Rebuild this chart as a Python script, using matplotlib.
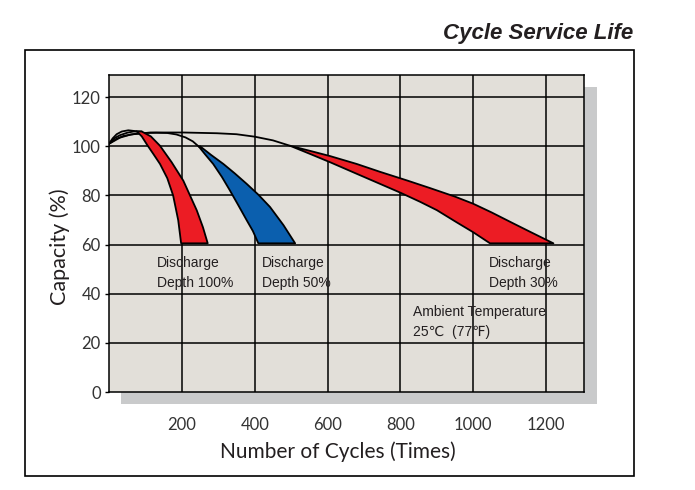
import matplotlib
matplotlib.use("Agg")
import matplotlib.pyplot as plt
from matplotlib.patches import Rectangle

plt.rcParams['font.family'] = ['Lato', 'DejaVu Sans']

# ---- data (cycles, capacity %) ----
x_ticks = [200, 400, 600, 800, 1000, 1200]
y_ticks = [0, 20, 40, 60, 80, 100, 120]

# 100% DOD: two lines from the start point up to the red band tip
a_pre1_x = [0, 10, 21, 35, 53, 76]
a_pre1_y = [101, 103.2, 104.9, 106.0, 106.5, 106.1]
a_pre2_x = [0, 15, 30, 50, 67, 90]
a_pre2_y = [101, 103.3, 104.5, 105.5, 106.0, 106.0]
a_in_x = [76, 90, 105, 122, 140, 160, 176, 190, 198]
a_in_y = [106.1, 104.0, 100.5, 96.8, 92.8, 87.0, 80.0, 69.9, 60.5]
a_out_x = [90, 115, 140, 172, 204, 241, 258, 271]
a_out_y = [106.0, 104.0, 100.2, 93.5, 86.0, 73.9, 67.0, 60.5]

# 50% DOD
b_pre_x = [0, 20, 40, 70, 100, 130, 160, 185, 210, 230, 247]
b_pre_y = [101, 103.0, 104.2, 105.0, 105.4, 105.5, 105.4, 104.8, 103.6, 102.0, 99.8]
b_in_x = [247, 265, 286, 310, 332, 355, 378, 395, 410]
b_in_y = [99.8, 96.5, 92.8, 87.5, 82.0, 76.0, 69.9, 65.5, 60.5]
b_out_x = [250, 280, 314, 345, 378, 410, 442, 479, 511]
b_out_y = [100.0, 96.5, 92.8, 89.0, 84.7, 80.3, 75.3, 67.9, 60.5]

# 30% DOD
c_pre_x = [0, 30, 60, 113, 204, 296, 350, 400, 450, 497]
c_pre_y = [101, 103.5, 104.8, 105.6, 105.6, 105.3, 104.9, 103.9, 102.4, 100.2]
c_top_x = [497, 550, 607, 680, 744, 820, 881, 950, 1000, 1050, 1110, 1160, 1220]
c_top_y = [100.2, 98.2, 96.0, 92.8, 89.6, 86.0, 83.0, 79.5, 76.6, 73.1, 68.6, 64.9, 60.5]
c_bot_x = [497, 550, 607, 680, 744, 800, 854, 900, 955, 1000, 1046]
c_bot_y = [100.2, 97.0, 93.5, 88.8, 84.7, 81.1, 77.4, 74.0, 69.0, 65.0, 60.5]

RED = '#ec1c24'
BLUE = '#0b5fae'
BG = '#e2dfd9'
SHADOW = '#c9cacb'
TXT = '#231f20'

W, H = 695, 490
fig = plt.figure(figsize=(W / 100, H / 100), dpi=100)
fig.patch.set_facecolor('white')


def fx(px):
    return px / W


def fy(py):
    return 1 - py / H


# outer frame and drop shadow (behind the axes)
fig.patches.append(Rectangle((fx(25), fy(476)), fx(634) - fx(25), fy(50) - fy(476),
                             transform=fig.transFigure, fill=False, ec='black', lw=1.2, zorder=-2))
fig.patches.append(Rectangle((fx(121), fy(404)), fx(597) - fx(121), fy(87) - fy(404),
                             transform=fig.transFigure, fc=SHADOW, ec='none', zorder=-1))

ax = fig.add_axes([fx(109), fy(392), fx(584) - fx(109), fy(75) - fy(392)])
ax.set_zorder(2)
ax.set_facecolor(BG)
ax.set_xlim(0, 1304)
ax.set_ylim(0, 129)

for v in x_ticks:
    ax.axvline(v, color='black', lw=1.1, zorder=1)
for v in y_ticks[1:]:
    ax.axhline(v, color='black', lw=1.1, zorder=1)

for s in ax.spines.values():
    s.set_color('black')
    s.set_linewidth(1.1)

ax.set_xticks(x_ticks)
ax.set_yticks(y_ticks)
ax.tick_params(axis='x', length=0, pad=18, labelsize=12, labelcolor='#333333')
ax.tick_params(axis='y', length=3, width=1, pad=3, labelsize=12, labelcolor='#333333')


def band(in_x, in_y, out_x, out_y, color):
    xs = list(in_x) + list(out_x[::-1])
    ys = list(in_y) + list(out_y[::-1])
    ax.fill(xs, ys, facecolor=color, edgecolor='black', lw=1.3, joinstyle='round', zorder=3)


for px_, py_ in [(a_pre1_x, a_pre1_y), (a_pre2_x, a_pre2_y), (b_pre_x, b_pre_y), (c_pre_x, c_pre_y)]:
    ax.plot(px_, py_, color='black', lw=1.3, zorder=3, solid_capstyle='round')

band(a_in_x, a_in_y, a_out_x, a_out_y, RED)
band(b_in_x, b_in_y, b_out_x, b_out_y, BLUE)
band(c_bot_x, c_bot_y, c_top_x, c_top_y, RED)

lbl = dict(fontsize=10, color=TXT, family=['Liberation Sans Narrow', 'Liberation Sans', 'DejaVu Sans'],
           va='top', ha='left', linespacing=1.55, zorder=4)
ax.text(132, 55.4, 'Discharge\nDepth 100%', **lbl)
ax.text(420, 55.4, 'Discharge\nDepth 50%', **lbl)
ax.text(1043, 55.4, 'Discharge\nDepth 30%', **lbl)
ax.text(835, 35.6, 'Ambient Temperature\n25\u2103  (77\u2109)', **lbl)

fig.text(fx(60), fy(247), 'Capacity (%)', rotation=90, ha='center', va='center',
         fontsize=15.5, color=TXT)
fig.text(fx(338), fy(452), 'Number of Cycles (Times)', ha='center', va='center',
         fontsize=15, color=TXT)
fig.text(fx(633), fy(34), 'Cycle Service Life', ha='right', va='center', fontsize=16,
         fontweight='bold', fontstyle='italic', family=['Liberation Sans', 'DejaVu Sans'], color=TXT)

fig.savefig('out.png', dpi=100)
